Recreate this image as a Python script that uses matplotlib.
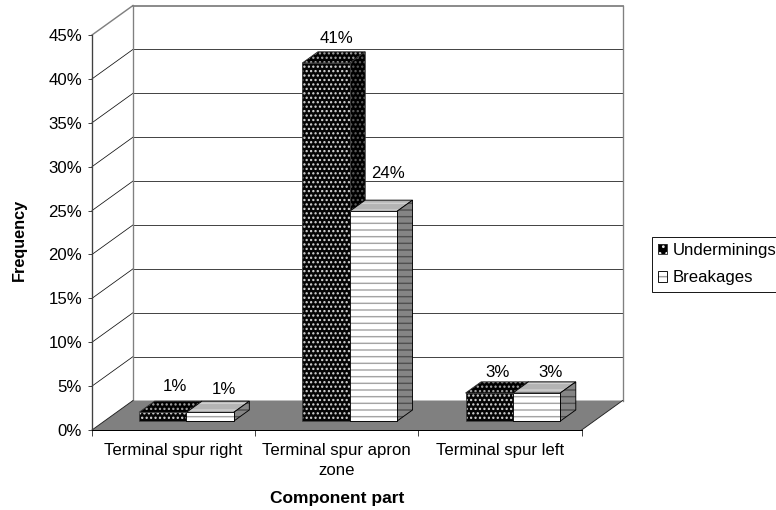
import matplotlib
matplotlib.use("Agg")
import matplotlib.pyplot as plt
from matplotlib.patches import Polygon, Patch
from matplotlib.legend_handler import HandlerTuple
from matplotlib.ticker import FuncFormatter

plt.rcParams['font.family'] = ['Liberation Sans', 'DejaVu Sans']
plt.rcParams['hatch.linewidth'] = 1.3

categories = ['Terminal spur right', 'Terminal spur apron\nzone', 'Terminal spur left']
underminings = [1.0, 40.8, 3.2]
breakages = [1.0, 23.9, 3.2]
y_ticks = [0, 5, 10, 15, 20, 25, 30, 35, 40, 45]

# layout
W, H, DPI = 776, 510, 80
LEFT, RIGHT, BOTTOM, TOP = 92, 581.7, 430, 35
PX_X = (RIGHT - LEFT) / 3
PX_Y = (BOTTOM - TOP) / 45
DX, DY = 41 / PX_X, 29.5 / PX_Y     # oblique shift of the full chart depth
GAP, BAR_W = 0.213, 0.29
Z0, Z1 = 0.30, 0.68
FS = 15.1
# offsets of value labels from the bar's back top centre (px)
OFF_U = [(4, 15), (3, 13), (1, 9)]
OFF_B = [(6, 12), (7, 27), (6, 9)]

fig = plt.figure(figsize=(W / DPI, H / DPI), dpi=DPI, facecolor='white')
ax = fig.add_axes([LEFT / W, 1 - BOTTOM / H, (RIGHT - LEFT) / W, (BOTTOM - TOP) / H])
ax.set_xlim(0, 3)
ax.set_ylim(0, 45)
ax.patch.set_visible(False)


def pr(x, v, z):
    return (x + z * DX, v + z * DY)


def face(pts, fc, hc, hatch, ec, lw=0.8, z=3):
    pts = [pr(*p) for p in pts]
    ax.add_patch(Polygon(pts, closed=True, facecolor=fc, edgecolor=hc, hatch=hatch,
                         lw=0, clip_on=False, zorder=z))
    ax.add_patch(Polygon(pts, closed=True, fill=False, edgecolor=ec, lw=lw,
                         clip_on=False, zorder=z))


# floor
ax.add_patch(Polygon([pr(0, 0, 0), pr(3, 0, 0), pr(3, 0, 1), pr(0, 0, 1)], closed=True,
                     facecolor='#808080', edgecolor='none', clip_on=False, zorder=1))
# walls and grid
for t in y_ticks[1:]:
    c = '#808080' if t == 45 else '#303030'
    lw = 1.6 if t == 45 else 0.8
    xs, ys = zip(pr(0, t, 1), pr(3, t, 1))
    ax.plot(xs, ys, color=c, lw=lw, clip_on=False, zorder=1.5)
    xs, ys = zip(pr(0, t, 0), pr(0, t, 1))
    ax.plot(xs, ys, color='#808080' if t == 45 else '#101010', lw=1.3 if t == 45 else 0.7,
            clip_on=False, zorder=1.5)
for x in (0, 3):
    xs, ys = zip(pr(x, 0, 1), pr(x, 45, 1))
    ax.plot(xs, ys, color='#808080', lw=1.2, clip_on=False, zorder=1.5)
xs, ys = zip(pr(3, 0, 0), pr(3, 0, 1))
ax.plot(xs, ys, color='#202020', lw=0.8, clip_on=False, zorder=1.5)
xs, ys = zip(pr(0, 0, 0), pr(0, 0, 1))
ax.plot(xs, ys, color='#202020', lw=0.8, clip_on=False, zorder=1.5)


def bar3d(x0, x1, v, style):
    f = [(x0, 0, Z0), (x1, 0, Z0), (x1, v, Z0), (x0, v, Z0)]
    t = [(x0, v, Z0), (x1, v, Z0), (x1, v, Z1), (x0, v, Z1)]
    s = [(x1, 0, Z0), (x1, 0, Z1), (x1, v, Z1), (x1, v, Z0)]
    if style == 'u':
        face(t, 'black', '#a8a8a8', '...', '#303030')
        face(s, 'black', '#606060', '...', '#303030')
        face(f, '#050505', '#d8d8d8', '...', '#404040')
    else:
        face(t, '#b4b4b4', '#cfcfcf', '--', 'black')
        face(s, '#858585', '#505050', '--', 'black')
        face(f, 'white', '#a4a4a4', '--', 'black')


for i, (u, b) in enumerate(zip(underminings, breakages)):
    bar3d(i + GAP, i + GAP + BAR_W, u, 'u')
    bar3d(i + GAP + BAR_W, i + GAP + 2 * BAR_W, b, 'b')
    for val, x0, off in ((u, i + GAP, OFF_U[i]), (b, i + GAP + BAR_W, OFF_B[i])):
        pos = pr(x0 + BAR_W / 2, val, (Z0 + Z1) / 2)
        ax.annotate(f'{val:.0f}%', xy=pos, xytext=(off[0] * 72 / DPI, (off[1] + 5.6) * 72 / DPI),
                    textcoords='offset points', ha='center', va='center', fontsize=FS,
                    color='black', annotation_clip=False, zorder=6)

# axes
for s in ('top', 'right'):
    ax.spines[s].set_visible(False)
ax.spines['left'].set_color('#404040')
ax.spines['left'].set_linewidth(1.2)
ax.spines['bottom'].set_color('black')
ax.spines['bottom'].set_linewidth(0.9)
for s in ax.spines.values():
    s.set_zorder(2)
ax.set_yticks(y_ticks)
ax.yaxis.set_major_formatter(FuncFormatter(lambda v, _: f'{v:.0f}%'))
ax.tick_params(axis='y', length=4, width=0.8, color='#303030', pad=5, labelsize=FS)
ax.set_xticks([0, 1, 2, 3])
ax.set_xticklabels([])
ax.tick_params(axis='x', which='major', length=5, width=0.8, color='#303030')
ax.set_xticks([0.5, 1.5, 2.5], minor=True)
ax.set_xticklabels(categories, minor=True, fontsize=FS, linespacing=1.45, va='top')
ax.tick_params(axis='x', which='minor', length=0, pad=11.5)

fig.text(337 / W, 1 - 499 / H, 'Component part', ha='center', va='center',
         fontsize=15.7, fontweight='bold')
fig.text(19 / W, 1 - 240 / H, 'Frequency', ha='center', va='center', rotation=90,
         fontsize=14.6, fontweight='bold')

h1 = (Patch(facecolor='black', edgecolor='#e8e8e8', hatch='..', lw=0),
      Patch(fill=False, edgecolor='#303030', lw=0.8))
h2 = (Patch(facecolor='white', edgecolor='#a0a0a0', hatch='--', lw=0),
      Patch(fill=False, edgecolor='black', lw=0.8))
leg = fig.legend([h1, h2], ['Underminings', 'Breakages'],
                 handler_map={tuple: HandlerTuple(ndivide=1, pad=0)},
                 loc='upper left', bbox_to_anchor=(651.5 / W, 1 - 237 / H),
                 borderaxespad=0, frameon=True, fancybox=False, edgecolor='black',
                 framealpha=1, fontsize=FS, handlelength=0.55, handleheight=0.55,
                 handletextpad=0.32, labelspacing=0.72, borderpad=0.38)
leg.get_frame().set_linewidth(0.8)

fig.savefig('out.png', dpi=DPI)
